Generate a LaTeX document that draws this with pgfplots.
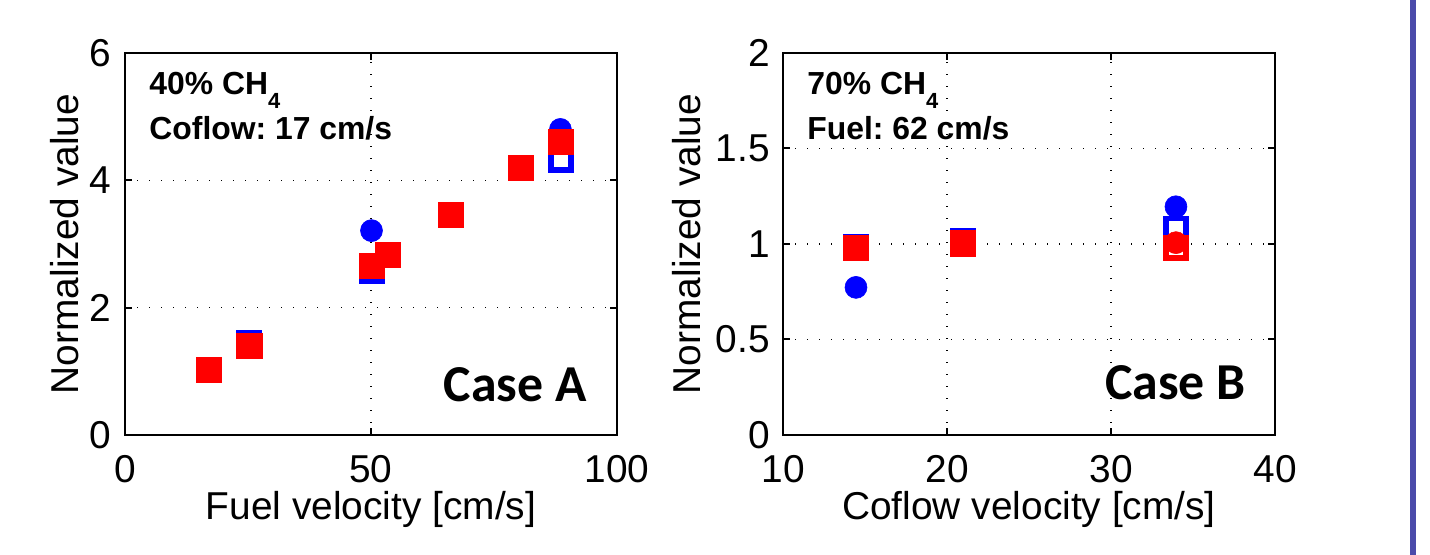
\documentclass[border=0pt]{standalone}
\usepackage{pgfplots}
\pgfplotsset{compat=1.18}
\usepackage{fontspec}
\setmainfont{Liberation Sans}
\newfontfamily\casefont{Carlito}
\frenchspacing

\definecolor{mblue}{RGB}{0,0,255}
\definecolor{mred}{RGB}{255,0,0}
\definecolor{barblue}{RGB}{75,75,170}

\pgfplotsset{
  matlab/.style={
    scale only axis, width=246bp, height=191bp,
    anchor=south west,
    tick align=inside, major tick length=3.5bp,
    grid=major,
    major grid style={black, line width=0.6bp, dash pattern=on 0.7bp off 5.3bp},
    axis line style={line width=1bp},
    every tick/.style={black, line width=1bp},
    tick label style={font=\fontsize{19.5}{20}\selectfont},
    label style={font=\fontsize{19.5}{20}\selectfont},
    /pgf/number format/assume math mode=true,
    yticklabel style={inner sep=0pt, xshift=-6.5bp, anchor=east},
    xticklabel style={inner sep=0pt, yshift=-10bp, anchor=north},
    xlabel style={at={(axis description cs:0.5,-0.222)}, anchor=base},
  },
  bluedot/.style={only marks, mark=*, mark size=5.5bp,
    mark options={draw=mblue, fill=mblue, line width=0.3bp}},
  bluebox/.style={only marks, mark=square*, mark size=5.1bp,
    mark options={draw=mblue, fill=white, line width=2.8bp}},
  redbox/.style={only marks, mark=square*, mark size=6.3bp,
    mark options={draw=mred, fill=mred, line width=0.4bp}},
  redopenbox/.style={only marks, mark=square*, mark size=5.1bp,
    mark options={draw=mred, fill=white, line width=2.8bp}},
  reddot/.style={only marks, mark=*, mark size=5.5bp,
    mark options={draw=mred, fill=mred, line width=0.3bp}},
}

\begin{document}
\begin{tikzpicture}
\useasboundingbox (0,0) rectangle (715bp,277.5bp);

% Case A: fuel velocity sweep
\begin{axis}[matlab, at={(62.5bp,60bp)},
  xmin=0, xmax=100, ymin=0, ymax=6,
  xtick={0,50,100}, ytick={0,2,4,6},
  xlabel={Fuel velocity [cm/s]}, ylabel={Normalized value},
  ylabel style={at={(axis description cs:-0.0955,0.5)}, anchor=base},
]
\addplot[bluedot] coordinates {(50.1,3.21) (88.5,4.80)};
\addplot[bluebox] coordinates {(17,1.02) (25.3,1.44) (50.2,2.57) (88.6,4.32)};
\addplot[redbox] coordinates {(17,1.02) (25.3,1.40) (50.2,2.65) (53.5,2.83)
  (66.2,3.46) (80.5,4.19) (88.6,4.61)};
\end{axis}

% Case B: coflow velocity sweep
\begin{axis}[matlab, at={(391.5bp,60bp)},
  xmin=10, xmax=40, ymin=0, ymax=2,
  xtick={10,20,30,40}, ytick={0,0.5,1,1.5,2},
  xlabel={Coflow velocity [cm/s]}, ylabel={Normalized value},
  ylabel style={at={(axis description cs:-0.1687,0.5)}, anchor=base},
]
\addplot[bluedot] coordinates {(14.45,0.773) (33.96,1.195)};
\addplot[bluebox] coordinates {(14.45,0.985) (20.95,1.016) (33.96,1.08)};
\addplot[redbox] coordinates {(14.45,0.98) (20.95,1.003)};
\addplot[redopenbox] coordinates {(33.96,0.98)};
\addplot[reddot] coordinates {(33.96,1.007)};
\end{axis}

% Annotations
\begin{scope}[every node/.style={inner sep=0pt, anchor=base west,
    font=\fontsize{16}{16}\selectfont\bfseries}]
  \node at (74.5bp,230bp) {40\% CH\raisebox{-7bp}{\fontsize{11}{11}\selectfont 4}};
  \node at (74.5bp,207.5bp) {Coflow: 17 cm/s};
  \node at (403.5bp,230bp) {70\% CH\raisebox{-7bp}{\fontsize{11}{11}\selectfont 4}};
  \node at (403.5bp,207.5bp) {Fuel: 62 cm/s};
\end{scope}
\node[inner sep=0pt, anchor=base east, font=\casefont\fontsize{26}{26}\selectfont\bfseries]
  at (293.5bp,76.5bp) {Case A};
\node[inner sep=0pt, anchor=base east, font=\casefont\fontsize{26}{26}\selectfont\bfseries]
  at (623bp,77.5bp) {Case B};

% Slide-edge rule
\fill[barblue] (705bp,0) rectangle (708bp,277.5bp);
\end{tikzpicture}
\end{document}
